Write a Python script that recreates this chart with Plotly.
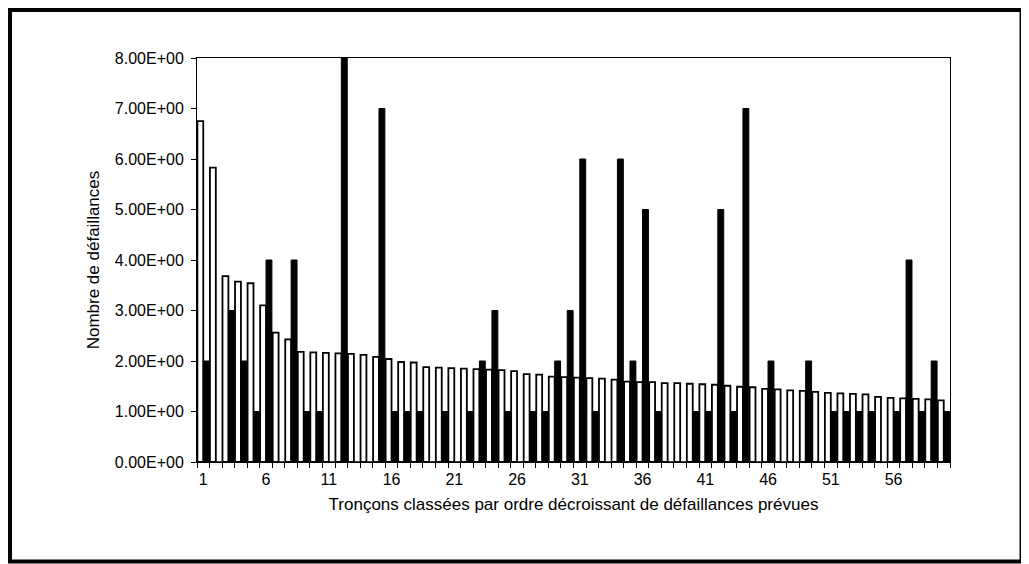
import plotly.graph_objects as go

# --- data -------------------------------------------------------------
sections = list(range(1, 61))

predicted = [
    6.75, 5.83, 3.68, 3.57, 3.54, 3.10, 2.56, 2.43, 2.18, 2.17,
    2.16, 2.15, 2.14, 2.12, 2.08, 2.04, 1.98, 1.97, 1.88, 1.87,
    1.86, 1.85, 1.84, 1.83, 1.82, 1.80, 1.74, 1.73, 1.69, 1.68,
    1.67, 1.66, 1.65, 1.63, 1.59, 1.58, 1.58, 1.56, 1.56, 1.55,
    1.54, 1.53, 1.51, 1.49, 1.48, 1.45, 1.44, 1.42, 1.41, 1.39,
    1.37, 1.36, 1.35, 1.34, 1.29, 1.27, 1.26, 1.25, 1.24, 1.22,
]

observed = [
    2, 0, 3, 2, 1, 4, 0, 4, 1, 1,
    0, 8, 0, 0, 7, 1, 1, 1, 0, 1,
    0, 1, 2, 3, 1, 0, 1, 1, 2, 3,
    6, 1, 0, 6, 2, 5, 1, 0, 0, 1,
    1, 5, 1, 7, 0, 2, 0, 0, 2, 0,
    1, 1, 1, 1, 0, 1, 4, 1, 2, 1,
]

y_tick_values = [0, 1, 2, 3, 4, 5, 6, 7, 8]
y_tick_labels = ["0.00E+00", "1.00E+00", "2.00E+00", "3.00E+00", "4.00E+00",
                 "5.00E+00", "6.00E+00", "7.00E+00", "8.00E+00"]
x_tick_labels = [1, 6, 11, 16, 21, 26, 31, 36, 41, 46, 51, 56]

x_title = "Tronçons classées par ordre décroissant de défaillances prévues"
y_title = "Nombre de défaillances"

# --- figure -----------------------------------------------------------
FONT = "Liberation Sans, Arial, sans-serif"

fig = go.Figure()
fig.add_trace(go.Bar(
    x=sections, y=predicted, name="Prévues",
    marker=dict(color="white", line=dict(color="black", width=1.8)),
))
fig.add_trace(go.Bar(
    x=sections, y=observed, name="Observées",
    marker=dict(color="black", line=dict(color="black", width=1.0)),
))

boundaries = [s - 0.5 for s in sections] + [sections[-1] + 0.5]

# page has an 8px body margin, so the figure is 8px smaller than the window
fig.update_layout(
    width=1021, height=556,
    margin=dict(l=189, r=79, t=50, b=102),
    paper_bgcolor="white", plot_bgcolor="white",
    barmode="group", bargap=0.06, bargroupgap=0.0,
    showlegend=False,
    font=dict(family=FONT, size=16, color="black"),
    xaxis=dict(
        range=[0.5, 60.5],
        tickmode="array", tickvals=x_tick_labels,
        ticktext=[str(v) for v in x_tick_labels],
        ticks="", ticklabelstandoff=3,
        tickfont=dict(family=FONT, size=16),
        minor=dict(tickmode="array", tickvals=boundaries, ticks="outside",
                   ticklen=5, tickcolor="black", tickwidth=1, showgrid=False),
        showgrid=False, zeroline=False,
        showline=True, linecolor="black", linewidth=1, mirror=True,
        title=dict(text=x_title, font=dict(family=FONT, size=17), standoff=10),
    ),
    yaxis=dict(
        range=[0, 8],
        tickmode="array", tickvals=y_tick_values, ticktext=y_tick_labels,
        ticks="outside", ticklen=5, tickcolor="black", ticklabelstandoff=4,
        tickfont=dict(family=FONT, size=16),
        showgrid=False, zeroline=False,
        showline=True, linecolor="black", linewidth=1, mirror=True,
        title=dict(text=y_title, font=dict(family=FONT, size=17), standoff=10),
    ),
    shapes=[dict(
        type="rect", xref="paper", yref="paper",
        x0=-0.2483, x1=1.095, y0=-0.246, y1=1.119,
        line=dict(color="black", width=4), fillcolor="rgba(0,0,0,0)",
        layer="above",
    )],
)

fig.write_html("out.html")
